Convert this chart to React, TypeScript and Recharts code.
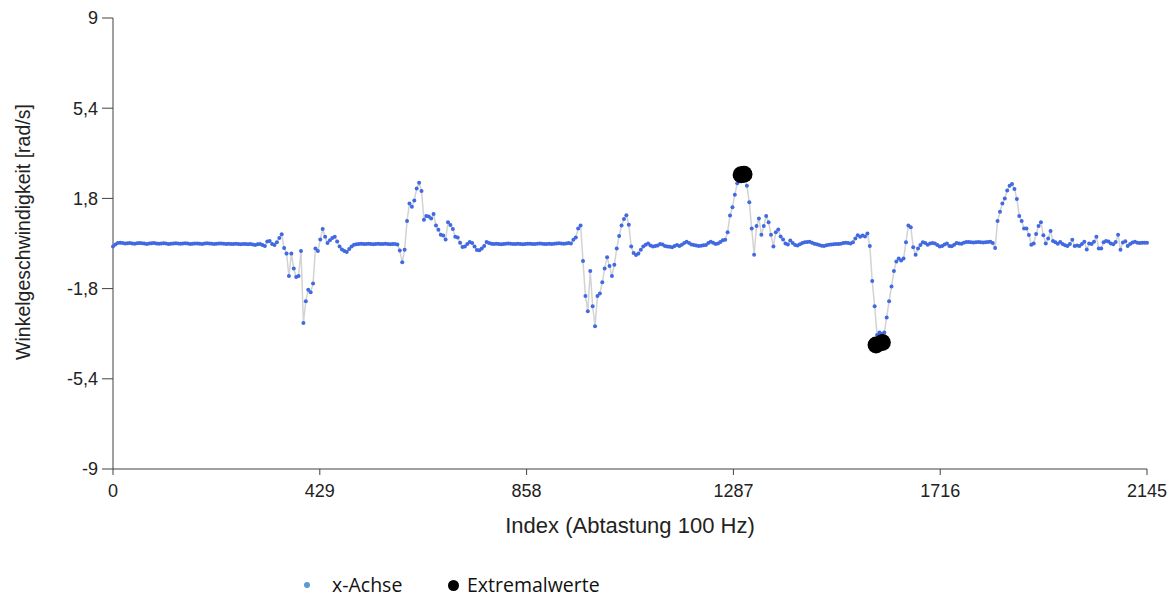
import React from 'react';
import { ScatterChart, Scatter, XAxis, YAxis, Label } from 'recharts';

// x-Achse, every 5th sample (index 0, 5, 10 ... 2145)
const IDX_STEP = 5;
const xAchse = [
  // 0 - 300
  -0.12, -0.04, 0.02, 0.03, 0.02, 0.0, 0.01, 0.02, 0.0, -0.01,
  0.01, 0.02, 0.01, 0.0, -0.02, 0.0, 0.01, 0.02, 0.0, -0.01,
  0.0, 0.01, 0.0, -0.02, -0.01, 0.0, 0.01, 0.0, -0.01, 0.0,
  0.01, 0.0, -0.02, -0.01, 0.0, 0.0, -0.01, -0.02, 0.0, 0.01,
  0.0, -0.01, -0.02, -0.01, 0.0, 0.0, -0.01, -0.02, -0.01, -0.02,
  -0.02, -0.01, -0.02, -0.03, -0.02, -0.02, -0.03, -0.02, -0.04, -0.06,
  -0.03,
  // 305 - 495
  -0.02, -0.06, -0.10, 0.08, 0.10, -0.02, -0.06, 0.05, 0.22, 0.37,
  -0.18, -0.40, -1.30, -0.40, -1.00, -1.34, -1.30, -0.30, -3.17, -2.30,
  -1.85, -1.95, -1.60, -0.20, -0.30, 0.16, 0.58, 0.27, 0.02, 0.13,
  0.22, 0.27, 0.08, -0.12, -0.24, -0.30, -0.34, -0.22, -0.12,
  // 500 - 585
  -0.05, -0.03, -0.02, -0.01, -0.02, -0.02, -0.01, -0.02, -0.03, -0.02,
  -0.01, -0.02, -0.02, -0.01, -0.02, -0.03, -0.02, -0.02,
  // 590 - 785
  -0.04, -0.28, -0.75, -0.25, 0.90, 1.60, 1.47, 1.72, 2.20, 2.42,
  2.10, 0.95, 1.10, 1.08, 1.00, 1.18, 0.72, 0.55, 0.35, 0.32,
  0.16, 0.85, 0.74, 0.58, 0.27, 0.24, 0.03, -0.14, -0.12, -0.02,
  0.06, 0.02, -0.12, -0.26, -0.27, -0.20, -0.10, 0.06, 0.02, -0.01,
  // 790 - 945
  -0.02, -0.01, -0.02, -0.03, -0.02, -0.01, 0.0, -0.01, -0.02, -0.02,
  -0.01, -0.02, -0.03, -0.02, -0.01, -0.01, -0.02, -0.02, -0.01, 0.0,
  -0.01, -0.02, -0.02, -0.01, -0.02, -0.01, 0.0, 0.01, 0.0, -0.01,
  0.0, 0.02,
  // 950 - 1155
  0.0, 0.15, 0.24, 0.60, 0.72, -0.70, -2.10, -2.70, -1.10, -2.50,
  -3.30, -2.10, -2.00, -1.55, -1.00, -0.55, -0.90, -1.30, -0.85, -0.20,
  0.30, 0.72, 0.98, 1.13, 0.75, -0.12, -0.38, -0.46, -0.40, -0.25,
  -0.12, -0.05, 0.0, -0.08, -0.12, -0.10, -0.08, -0.02, -0.04, -0.10,
  -0.12, -0.13,
  // 1160 - 1525
  -0.15, -0.10, -0.06, -0.10, -0.05, 0.02, 0.07, 0.02, -0.04, -0.06,
  -0.08, -0.10, -0.09, -0.07, -0.06, 0.02, 0.07, 0.03, -0.02, 0.0,
  0.06, 0.13, 0.15, 0.45, 1.12, 1.45, 1.95, 2.40, 2.70, 2.75,
  2.72, 2.30, 1.65, 0.60, -0.45, 0.70, 1.00, 0.35, 0.70, 1.10,
  0.85, 0.35, -0.12, 0.45, 0.56, 0.28, 0.16, 0.0, -0.04, 0.12,
  0.02, -0.06, -0.08, -0.03, 0.02, 0.05, 0.06, 0.07, 0.03, -0.01,
  -0.03, -0.06, -0.09, -0.10, -0.07, -0.05, -0.04, -0.03, -0.02, -0.02,
  -0.01, 0.02, 0.03, 0.02,
  // 1530 - 2145
  0.0, 0.05, 0.20, 0.33, 0.27, 0.32, 0.28, 0.40, -0.10, -1.50,
  -2.50, -3.65, -3.55, -3.60, -3.55, -2.95, -2.30, -1.72, -1.10, -0.72,
  -0.60, -0.68, -0.60, 0.05, 0.72, 0.65, -0.15, -0.45, -0.20, -0.06,
  0.05, 0.02, -0.05, 0.0, 0.02, 0.0, -0.06, -0.12, -0.10, -0.04,
  0.0, -0.10, -0.11, -0.05, 0.02, 0.0, -0.01, 0.03, 0.06, 0.06,
  0.05, 0.04, 0.05, 0.06, 0.05, 0.04, 0.05, 0.06, 0.07, 0.02,
  -0.18, 0.90, 1.27, 1.60, 1.80, 2.12, 2.30, 2.37, 2.18, 1.78,
  1.10, 0.90, 0.60, 0.60, 0.34, -0.05, 0.0, 0.38, 0.70, 0.85,
  0.33, 0.0, 0.20, 0.50, 0.10, 0.05, -0.01, 0.06, -0.02, -0.07,
  -0.10, -0.02, 0.15, -0.10, -0.08, -0.10, -0.02, 0.07, -0.24, 0.0,
  -0.02, 0.07, 0.27, -0.20, -0.20, 0.05, 0.10, 0.08, 0.0, -0.03,
  0.06, 0.35, -0.25, 0.04, 0.09, -0.10, -0.02, 0.04, 0.07, 0.03,
  0.02, 0.03, 0.03, 0.03,
];

const extremIdx = [1303, 1309, 1583, 1596];
const extremVal = [2.74, 2.76, -4.05, -3.95];

const xTicks = [0, 429, 858, 1287, 1716, 2145];
const yTicks = [-9, -5.4, -1.8, 1.8, 5.4, 9];

const seriesData = xAchse.map((v, i) => ({ x: i * IDX_STEP, y: v }));
const extremData = extremIdx.map((x, i) => ({ x, y: extremVal[i] }));

const AXIS = '#404040';
const FONT = '"Liberation Sans", Arial, sans-serif';

const SmallDot = (props: any) => (
  <circle cx={props.cx} cy={props.cy} r={2} fill="#4169E1" />
);
const BigDot = (props: any) => (
  <circle cx={props.cx} cy={props.cy} r={8.5} fill="#000" />
);

const YTitle = () => (
  <text
    x={23}
    y={232}
    transform="rotate(-90, 23, 232)"
    textAnchor="middle"
    dominantBaseline="central"
    fill="#222"
    fontSize={19.5}
    fontFamily={FONT}
  >
    Winkelgeschwindigkeit [rad/s]
  </text>
);

export default function App() {
  return (
    <div style={{ position: 'absolute', left: 0, top: 0, width: 1175, height: 599, background: '#fff' }}>
      <ScatterChart width={1175} height={599} margin={{ top: 18, right: 28, bottom: 50, left: 0 }}>
        <XAxis
          type="number"
          dataKey="x"
          domain={[0, 2145]}
          ticks={xTicks}
          height={80}
          tickSize={6}
          tickMargin={9}
          stroke={AXIS}
          tick={{ fill: '#222', fontSize: 18, fontFamily: FONT }}
          interval={0}
        >
          <Label
            value="Index (Abtastung 100 Hz)"
            position="insideTop"
            offset={48}
            style={{ fill: '#222', fontSize: 22, fontFamily: FONT }}
          />
        </XAxis>
        <YAxis
          type="number"
          dataKey="y"
          domain={[-9, 9]}
          ticks={yTicks}
          width={113}
          tickSize={11}
          tickMargin={4}
          stroke={AXIS}
          interval={0}
          tickFormatter={(v: number) => String(v).replace('.', ',')}
          tick={{ fill: '#222', fontSize: 18, fontFamily: FONT }}
        >
          <Label content={YTitle} />
        </YAxis>
        <Scatter
          name="x-Achse"
          data={seriesData}
          line={{ stroke: '#d3d3d3', strokeWidth: 1.5 }}
          lineType="joint"
          shape={SmallDot}
          isAnimationActive={false}
        />
        <Scatter
          name="Extremalwerte"
          data={extremData}
          shape={BigDot}
          isAnimationActive={false}
        />
      </ScatterChart>
      <div style={{ position: 'absolute', left: 0, top: 570, width: 1175, height: 30, fontFamily: '"Open Sans", sans-serif', fontSize: 19.5, color: '#111' }}>
        <span style={{ position: 'absolute', left: 304, top: 12, width: 6, height: 6, borderRadius: 3, background: '#5B9BD5' }} />
        <span style={{ position: 'absolute', left: 332, top: 2, lineHeight: '26px' }}>x-Achse</span>
        <span style={{ position: 'absolute', left: 448, top: 10, width: 11, height: 11, borderRadius: 6, background: '#000' }} />
        <span style={{ position: 'absolute', left: 467, top: 2, lineHeight: '26px' }}>Extremalwerte</span>
      </div>
    </div>
  );
}
